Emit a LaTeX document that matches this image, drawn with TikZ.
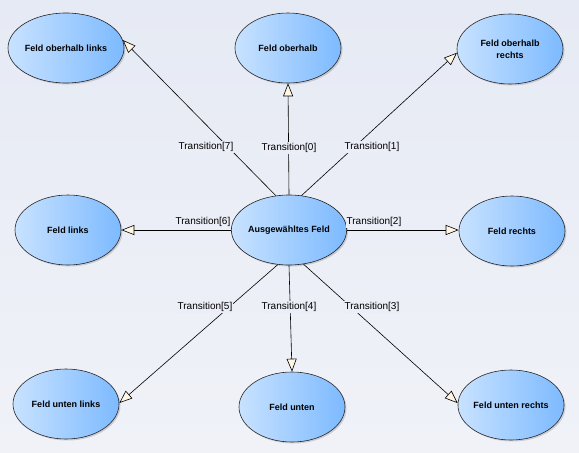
\documentclass[tikz,border=0pt]{standalone}
\usepackage{fontspec}
\setmainfont{Liberation Sans}
\usetikzlibrary{shapes.geometric,arrows.meta,shadows}
\definecolor{bgtop}{HTML}{E6EAF4}
\definecolor{bgbot}{HTML}{F0F2F8}
\definecolor{bgmid}{HTML}{EBEEF6}
\definecolor{eleft}{HTML}{C8E2FF}
\definecolor{eright}{HTML}{7DBAFF}
\definecolor{tipfill}{HTML}{FFF6E6}
\begin{document}
\begin{tikzpicture}[x=1pt,y=-1pt,
  state/.style={ellipse, draw=black!85, line width=0.6pt, minimum width=106pt, minimum height=70pt,
    left color=eleft, right color=eright, font=\bfseries\fontsize{9}{12}\selectfont, align=center, inner sep=0pt,
    drop shadow={shadow xshift=1.5pt, shadow yshift=-1.5pt, fill=black, opacity=0.15}},
  tr/.style={draw=black, line width=0.6pt, -{Triangle[length=13pt,width=10pt,fill=tipfill]}},
  lbl/.style={fill=bgmid, inner sep=1pt, font=\fontsize{10}{12}\selectfont}]
\shade[top color=bgtop, bottom color=bgbot] (0,0) rectangle (579,453);
\useasboundingbox (0,0) rectangle (579,453);

\node[state] (ol) at (66,48) {Feld oberhalb links};
\node[state] (o) at (288,48) {Feld oberhalb};
\node[state] (or) at (510,49) {Feld oberhalb\\ rechts};
\node[state] (l) at (68,230) {Feld links};
\node[state] (c) at (289,230) {Ausgewähltes Feld};
\node[state] (r) at (512,231) {Feld rechts};
\node[state] (ul) at (66,404) {Feld unten links};
\node[state] (u) at (292,407) {Feld unten};
\node[state] (ur) at (511,405) {Feld unten rechts};

\draw[tr] (c.111) -- (ol.8);
\draw[tr] (c.north) -- (o.south);
\draw[tr] (c.70) -- (or.184);
\draw[tr] (c.west) -- (l.east);
\draw[tr] (c.east) -- (c.east -| r.west);
\draw[tr] (c.252) -- (ul.1);
\draw[tr] (c.south) -- (u.north);
\draw[tr] (c.293) -- (ur.178);

\node[lbl] (t7) at (206,147) {Transition[7]};
\node[lbl] (t0) at (289,148) {Transition[0]};
\node[lbl] (t1) at (372,147) {Transition[1]};
\node[lbl] (t6) at (203,222) {Transition[6]};
\node[lbl] (t2) at (374,222) {Transition[2]};
\node[lbl] (t5) at (205,307) {Transition[5]};
\node[lbl] (t4) at (289,307) {Transition[4]};
\node[lbl] (t3) at (372,307) {Transition[3]};
\end{tikzpicture}
\end{document}
